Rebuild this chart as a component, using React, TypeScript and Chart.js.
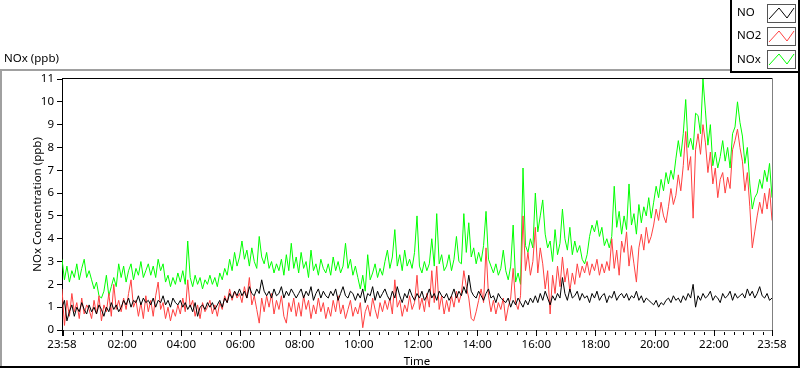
import React, { useEffect, useRef } from "react";
import { Chart, registerables } from "chart.js";

Chart.register(...registerables);

// ---- data (one sample every 5 minutes, starting at 23:58) ----
const SERIES_NAMES = ["NO", "NO2", "NOx"];
const STEP_MINUTES = 5;

const NO_VALUES = [
  1.0, 1.3, 0.4, 0.8, 1.1, 0.6, 1.0, 0.8, 1.2, 0.9, 0.7, 1.1,
  0.8, 1.0, 0.7, 1.1, 0.9, 0.6, 1.0, 0.8, 1.2, 0.9, 1.1, 0.8,
  1.0, 1.3, 1.1, 1.4, 1.0, 1.3, 1.2, 1.5, 1.1, 1.4, 1.2, 1.3,
  1.1, 1.4, 1.0, 1.3, 1.2, 1.5, 1.1, 1.3, 1.0, 1.4, 1.2, 1.1,
  1.3, 1.0, 1.2, 0.9, 1.1, 0.8, 1.2, 0.6, 1.0, 1.1, 0.9, 1.2,
  1.0, 1.2, 0.9, 1.1, 1.3, 1.0, 1.4, 1.2, 1.6, 1.4, 1.7, 1.5,
  1.8, 1.5, 1.7, 1.4, 1.9, 1.6, 1.5, 1.8, 1.6, 2.2, 1.7, 1.5,
  1.7, 1.4, 1.8, 1.5, 1.6, 1.9, 1.4, 1.7, 1.5, 1.8, 1.6, 1.4,
  1.6, 1.8, 1.4, 1.7, 1.5, 1.9, 1.3, 1.6, 1.8, 1.4, 1.7, 1.5,
  1.4, 1.7, 1.5, 1.8, 1.3, 1.6, 1.9, 1.5, 1.4, 1.7, 1.6, 1.3,
  1.6, 1.4, 1.8, 1.2, 1.6, 1.5, 1.9, 1.3, 1.7, 1.4, 1.6, 1.8,
  1.5, 1.3, 1.7, 1.4, 1.9, 1.5, 1.2, 1.6, 1.4, 1.8, 1.5, 1.3,
  1.6, 1.4, 1.7, 1.3, 1.5, 1.8, 1.4, 1.6, 1.3, 1.7, 1.5, 1.4,
  1.6, 1.3, 1.5, 1.8, 1.4, 1.7, 1.5, 1.9, 1.6, 2.4, 1.7, 1.5,
  1.4, 1.7, 1.5, 1.3, 1.6, 1.8, 1.4, 1.5, 1.2, 1.6, 1.4, 1.3,
  1.2, 1.4, 1.0, 1.3, 1.1, 1.4, 1.2, 1.0, 1.3, 1.1, 1.4, 1.2,
  1.5, 1.2, 1.6, 1.3, 1.7, 1.4, 1.1, 1.5, 1.3, 1.6, 1.4, 2.3,
  1.6, 1.3, 1.8, 1.4, 1.5, 1.7, 1.3, 1.6, 1.4, 1.5, 1.2, 1.6,
  1.4, 1.7, 1.3, 1.5, 1.6, 1.2, 1.5, 1.4, 1.7, 1.3, 1.5, 1.6,
  1.4, 1.6, 1.3, 1.5, 1.4, 1.7, 1.3, 1.5, 1.2, 1.4, 1.3, 1.2,
  1.1, 1.3, 1.0, 1.2, 1.1, 1.3, 1.4, 1.2, 1.5, 1.3, 1.4, 1.2,
  1.5, 1.3, 1.6, 1.4, 2.0, 1.0, 1.5, 1.3, 1.6, 1.4, 1.5, 1.7,
  1.3, 1.5, 1.4, 1.2, 1.6, 1.4, 1.5, 1.7, 1.3, 1.6, 1.4, 1.5,
  1.6, 1.4, 1.8, 1.5, 1.7, 1.4, 1.6, 1.9, 1.5, 1.4, 1.6, 1.3,
  1.4,
];

const NO2_VALUES = [
  1.8, 0.2, 1.3, 0.6, 1.6, 0.8, 1.2, 0.5, 1.4, 0.7, 1.1, 0.9,
  0.5, 1.3, 0.7, 1.5, 0.4, 1.1, 0.8, 1.6, 0.6, 2.0, 0.9, 1.3,
  0.8, 1.4, 0.9, 1.6, 2.2, 1.0, 1.3, 0.6, 1.2, 0.5, 1.5, 0.8,
  1.3, 0.6, 1.5, 2.1, 0.9, 1.2, 0.5, 1.0, 0.4, 0.9, 0.6, 1.1,
  0.7, 1.4, 0.8, 2.2, 1.0, 1.3, 0.6, 1.1, 0.5, 1.2, 0.8, 1.0,
  1.3, 0.7, 1.1, 0.6, 1.2, 0.9, 1.5, 1.2, 1.8, 1.3, 1.7, 1.4,
  1.6, 1.2, 1.9, 1.4, 2.3, 1.1, 1.5, 0.9, 0.3, 1.4, 0.8, 1.5,
  1.0, 1.6, 0.7, 1.3, 0.9, 1.5, 0.6, 0.3, 1.2, 0.8, 1.4, 0.6,
  1.2, 0.6, 1.5, 0.9, 1.3, 0.5, 1.1, 0.7, 1.4, 0.8, 1.2, 0.5,
  1.0, 0.6, 1.3, 0.8, 1.5, 0.7, 1.1, 0.5, 0.9, 1.3, 0.6, 1.0,
  0.7, 1.2, 0.1, 0.8, 1.1, 0.6, 1.4, 0.9, 0.5, 1.2, 0.8, 1.3,
  0.9, 1.4, 0.7, 2.2, 1.0, 1.3, 0.6, 1.1, 0.8, 1.5, 0.9, 1.2,
  2.4, 0.9, 1.4, 0.8, 1.6, 1.0, 2.6, 1.2, 2.8, 0.9, 1.5, 0.7,
  1.3, 0.8, 1.5, 1.0, 1.7, 1.2, 1.6, 2.6, 1.9, 1.4, 0.5, 0.4,
  0.8, 1.3, 1.8, 1.2, 3.6, 1.5, 0.8, 1.3, 0.7, 1.2, 0.9, 1.4,
  0.4, 1.0, 1.4, 2.7, 1.2, 0.9, 1.5, 5.0, 2.6, 3.4, 2.4, 3.0,
  4.5, 2.5, 3.6, 2.9, 1.8, 2.6, 0.7, 2.4, 1.6, 2.8, 1.9, 3.2,
  2.1, 2.7, 1.7, 2.5, 2.0, 2.9, 2.3, 2.8, 2.5, 3.0, 2.4, 2.9,
  2.6, 3.1, 2.4, 2.9, 2.5, 3.0, 2.6, 4.0, 2.7, 3.5, 2.4, 3.9,
  3.4, 4.3, 2.8, 3.7, 2.9, 2.1, 3.6, 4.2, 3.5, 4.5, 3.8, 4.1,
  4.6, 5.3, 4.8, 5.6, 5.0, 4.7, 5.4, 6.2, 5.5, 5.9, 6.8, 6.1,
  7.2, 8.7, 7.0, 7.6, 4.9, 7.9, 8.6, 7.7, 9.0, 8.2, 6.9, 7.8,
  6.4, 7.1, 5.8, 6.6, 6.9, 6.0, 6.7, 6.2, 7.9, 8.3, 8.8, 8.0,
  7.4, 6.1, 6.9, 5.4, 3.6, 4.3, 5.0, 5.6, 5.1, 6.0, 5.3, 6.2,
  4.8,
];

const NOX_VALUES = [
  3.1, 2.2, 2.8, 2.1, 2.6, 2.3, 2.9, 2.2, 2.7, 3.1, 2.3, 2.6,
  2.2, 1.8, 2.1, 1.5, 1.4, 1.7, 2.4, 1.5, 1.9, 2.3, 1.9, 2.9,
  2.3, 2.8, 2.1, 2.6, 2.9, 2.2, 2.7, 2.4, 3.0, 2.3, 2.6, 2.9,
  2.4, 2.8, 2.3, 3.1, 2.6, 2.9, 2.1, 2.4, 1.9, 2.3, 2.0, 2.5,
  2.1, 2.6, 2.0, 3.9, 2.3, 1.9, 2.4, 2.0, 2.3, 1.8, 2.2, 2.0,
  2.4, 2.0, 2.3, 1.9, 2.5, 2.2, 2.7, 2.4, 3.1, 2.6, 3.4, 2.8,
  3.2, 3.9, 3.1, 3.5, 2.8, 3.6, 3.0, 2.7, 4.1, 3.2, 2.9, 3.4,
  2.7, 3.0, 2.5, 2.9, 2.6, 3.1, 2.4, 3.3, 2.6, 3.8, 2.7, 3.2,
  2.5, 3.4, 2.7, 3.0, 2.3, 3.5, 2.6, 2.9, 2.4, 3.1, 2.7, 2.5,
  2.9, 2.4, 3.2, 2.6, 3.0, 2.5, 2.8, 3.8, 2.7, 3.1, 2.4, 2.8,
  2.3, 1.8, 2.4, 1.7, 3.3, 2.2, 2.5, 2.9, 2.3, 2.7, 2.4, 3.0,
  3.5, 2.7, 3.2, 4.4, 2.8, 3.3, 2.6, 3.5, 2.8, 3.1, 2.7, 3.4,
  5.0, 2.8, 2.5, 3.0, 2.6, 2.9, 4.0, 2.8, 5.1, 2.9, 3.3, 2.6,
  2.8, 3.3, 2.6, 3.1, 4.1, 3.0, 2.9, 5.1, 3.4, 4.7, 3.2, 3.6,
  2.9, 3.4, 3.0, 3.7, 5.2, 3.1, 2.8, 2.5, 2.9, 2.4, 2.7, 3.5,
  2.6, 2.2, 2.8, 4.6, 2.1, 2.5, 2.0, 7.1, 3.7, 3.4, 4.0, 3.6,
  6.0, 4.3, 5.0, 5.7, 4.2, 3.6, 3.9, 3.0, 4.4, 3.3, 3.8, 5.3,
  4.0, 3.5, 4.5, 3.3, 3.9, 3.4, 3.7, 3.1, 2.9, 3.3, 4.1, 4.6,
  4.3, 4.8, 4.1, 4.5, 3.7, 4.0, 3.6, 4.1, 6.3, 4.5, 5.2, 4.2,
  5.0, 4.4, 6.4, 4.6, 5.1, 4.2, 5.5, 4.7, 5.4, 5.0, 5.8, 4.9,
  5.6, 6.3, 5.8, 6.6, 6.1, 6.9, 6.4, 7.0, 6.6, 7.5, 8.3, 7.6,
  8.6, 10.1, 8.0, 8.4, 7.9, 9.5, 9.4, 8.6, 11.0, 9.6, 8.1, 9.0,
  7.2, 7.8, 7.1, 7.6, 8.3, 7.4, 8.0, 7.1, 8.6, 8.9, 10.0, 9.1,
  8.5, 7.3, 8.0, 6.4, 5.3, 5.8, 6.0, 6.6, 6.2, 7.0, 6.5, 7.3,
  5.8,
];

const SERIES_VALUES = [NO_VALUES, NO2_VALUES, NOX_VALUES];
const SERIES_COLORS = ["#000000", "#ff4040", "#00ff00"];

// axis ticks (minutes since 23:58)
const X_MAX_MINUTES = 1440;
const MAJOR_TICK_MINUTES = [0, 122, 242, 362, 482, 602, 722, 842, 962, 1082, 1202, 1322, 1440];
const MAJOR_TICK_LABELS = ["23:58", "02:00", "04:00", "06:00", "08:00", "10:00", "12:00", "14:00", "16:00", "18:00", "20:00", "22:00", "23:58"];
const Y_TICKS = [0, 1, 2, 3, 4, 5, 6, 7, 8, 9, 10, 11];

const CHART_TITLE = "NOx (ppb)";
const Y_TITLE = "NOx Concentration (ppb)";
const X_TITLE = "Time";

const FONT_FAMILY = "'Noto Sans', 'Liberation Sans', sans-serif";
const FONT_SIZE = 11.5;

const framePlugin = {
  id: "labviewFrame",
  afterDraw(chart: any) {
    const ctx = chart.ctx as CanvasRenderingContext2D;
    const { left, right, top, bottom } = chart.chartArea;
    const xs = chart.scales.x;
    ctx.save();

    // outer frame
    ctx.fillStyle = "#a0a0a0";
    ctx.fillRect(0, 69, 731, 2);
    ctx.fillRect(0, 69, 2, 298);
    ctx.fillStyle = "#000000";
    ctx.fillRect(0, 366, 800, 2);
    ctx.fillRect(798, 0, 2, 368);
    // legend box
    ctx.fillRect(730, 0, 2, 73);
    ctx.fillRect(730, 71, 70, 2);

    // plot frame: top black, right gray
    ctx.fillRect(left, top - 1, right - left + 1, 1);
    ctx.fillStyle = "#808080";
    ctx.fillRect(right, top - 1, 1, bottom - top + 1);

    // x ticks: majors every 2h (plus the 23:58 ends), minors every 20 min
    ctx.fillStyle = "#000000";
    const majors = [...MAJOR_TICK_MINUTES, 2];
    majors.forEach((m) => {
      const px = Math.round(xs.getPixelForValue(m));
      ctx.fillRect(px, bottom, 1, 6);
    });
    for (let m = 2; m < X_MAX_MINUTES; m += 20) {
      if ((m - 2) % 120 === 0) continue;
      const px = Math.round(xs.getPixelForValue(m));
      ctx.fillRect(px, bottom + 2, 1, 3);
    }

    // chart title
    ctx.font = `${FONT_SIZE}px ${FONT_FAMILY}`;
    ctx.textBaseline = "middle";
    ctx.textAlign = "left";
    ctx.fillStyle = "#000000";
    ctx.fillText(CHART_TITLE, 4, 59);

    // legend
    SERIES_NAMES.forEach((name, i) => {
      const cy = 13 + i * 23.2;
      ctx.fillStyle = "#000000";
      ctx.fillText(name, 737, cy);
      const bx = 767;
      const by = Math.round(cy - 9);
      ctx.strokeStyle = "#555555";
      ctx.lineWidth = 1;
      ctx.strokeRect(bx + 0.5, by + 0.5, 28, 18);
      ctx.strokeStyle = SERIES_COLORS[i];
      ctx.beginPath();
      ctx.moveTo(bx + 2, by + 15);
      ctx.lineTo(bx + 12, by + 4);
      ctx.lineTo(bx + 20, by + 14);
      ctx.lineTo(bx + 27, by + 4);
      ctx.stroke();
    });

    ctx.restore();
  },
};

export default function App() {
  const canvasRef = useRef<HTMLCanvasElement | null>(null);

  useEffect(() => {
    const canvas = canvasRef.current;
    if (!canvas) return;
    const font = { family: FONT_FAMILY, size: FONT_SIZE };

    const datasets = SERIES_NAMES.map((name, i) => ({
      label: name,
      data: SERIES_VALUES[i].map((v, k) => ({ x: k * STEP_MINUTES, y: v })),
      borderColor: SERIES_COLORS[i],
      backgroundColor: SERIES_COLORS[i],
      borderWidth: 1,
      pointRadius: 0,
      tension: 0,
      fill: false,
    }));

    const chart = new Chart(canvas, {
      type: "line",
      data: { datasets },
      options: {
        responsive: false,
        animation: false,
        events: [],
        layout: { padding: { left: 0, right: 28, top: 79, bottom: 0 } },
        plugins: {
          legend: { display: false },
          tooltip: { enabled: false },
          title: { display: false },
        },
        scales: {
          x: {
            type: "linear",
            min: 0,
            max: X_MAX_MINUTES,
            afterBuildTicks: (s: any) => {
              s.ticks = MAJOR_TICK_MINUTES.map((v) => ({ value: v }));
            },
            afterFit: (s: any) => {
              s.height = 39;
            },
            grid: { display: false, drawTicks: false },
            border: { display: true, color: "#808080", width: 1 },
            ticks: {
              autoSkip: false,
              maxRotation: 0,
              minRotation: 0,
              padding: 8,
              color: "#000000",
              font,
              callback: (value: any) => {
                const idx = MAJOR_TICK_MINUTES.indexOf(Number(value));
                return idx >= 0 ? MAJOR_TICK_LABELS[idx] : "";
              },
            },
            title: {
              display: true,
              text: X_TITLE,
              color: "#000000",
              font,
              padding: { top: 0, bottom: 0 },
            },
          },
          y: {
            min: 0,
            max: 11,
            afterBuildTicks: (s: any) => {
              s.ticks = Y_TICKS.map((v) => ({ value: v }));
            },
            afterFit: (s: any) => {
              s.width = 62;
            },
            grid: {
              display: true,
              drawOnChartArea: false,
              drawTicks: true,
              tickLength: 5,
              color: "#000000",
            },
            border: { display: true, color: "#000000", width: 1 },
            ticks: { padding: 3, color: "#000000", font },
            title: {
              display: true,
              text: Y_TITLE,
              color: "#000000",
              font,
              padding: { top: 30.5, bottom: 0 },
            },
          },
        },
      },
      plugins: [framePlugin],
    } as any);

    return () => chart.destroy();
  }, []);

  return (
    <div style={{ position: "fixed", left: 0, top: 0, width: 800, height: 369, background: "#ffffff" }}>
      <canvas ref={canvasRef} width={800} height={369} style={{ display: "block", width: 800, height: 369 }} />
    </div>
  );
}
